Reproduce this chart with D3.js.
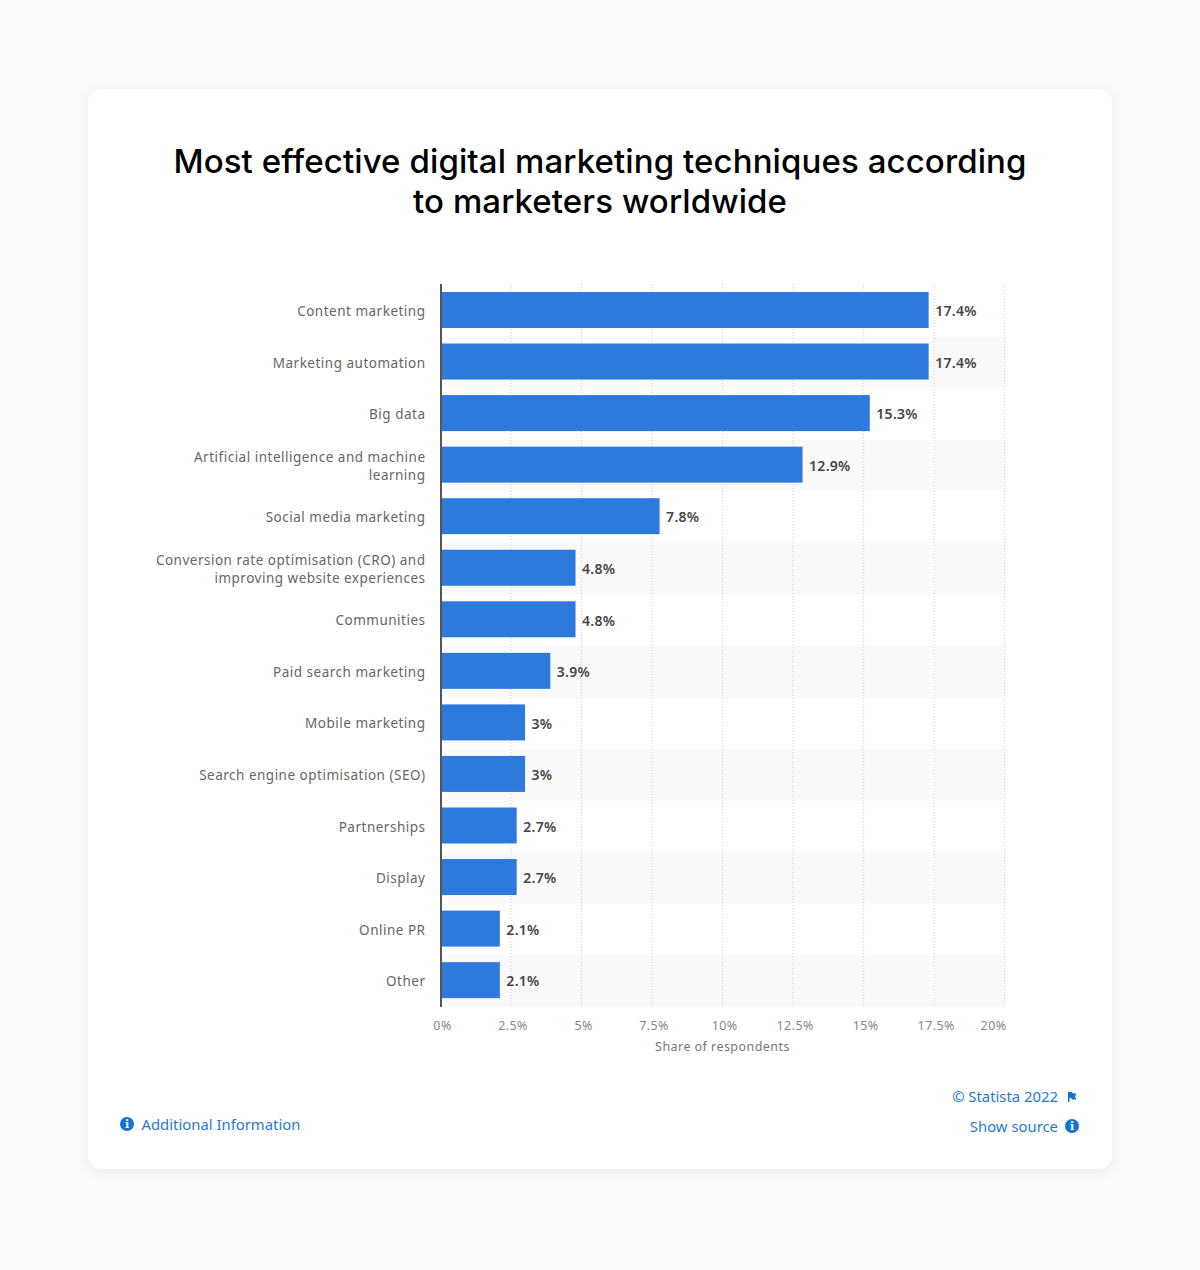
<!DOCTYPE html>
<html>
<head>
<meta charset="utf-8">
<script src="https://cdn.jsdelivr.net/npm/d3@7"></script>
<style>
	html, body { margin: 0; padding: 0; background: #fbfbfb; }
	#card { position: absolute; left: 88px; top: 89px; width: 1024px; height: 1080px; background: #fff;
		border-radius: 13px; box-shadow: 0 2px 14px rgba(0,0,0,0.07); }
	svg { position: absolute; left: 0; top: 0; }
	text { font-family: "Noto Sans", sans-serif; }
</style>
</head>
<body>
<div id="card"></div>
<div id="chart-area"></div>
<script>
const categories = ["Content marketing", "Marketing automation", "Big data",
	"Artificial intelligence and machine learning", "Social media marketing",
	"Conversion rate optimisation (CRO) and improving website experiences", "Communities",
	"Paid search marketing", "Mobile marketing", "Search engine optimisation (SEO)",
	"Partnerships", "Display", "Online PR", "Other"];
const values = [17.4, 17.4, 15.3, 12.9, 7.8, 4.8, 4.8, 3.9, 3, 3, 2.7, 2.7, 2.1, 2.1];
const xTicks = [0, 2.5, 5, 7.5, 10, 12.5, 15, 17.5, 20];
const titleLines = ["Most effective digital marketing techniques according", "to marketers worldwide"];

const svg = d3.select("#chart-area").append("svg")
	.attr("width", 1200)
	.attr("height", 1270);

// gridlines and bars sit on slightly different ranges in the reference
const x = d3.scaleLinear().domain([0, 20]).range([440.5, 1004.7]);
const xBar = d3.scaleLinear().domain([0, 20]).range([441, 1001.5]);
const y = d3.scaleBand().domain(categories).range([285, 1006.7]);
const barHeight = 36;

// title
svg.selectAll(".title")
	.data(titleLines)
	.enter().append("text")
	.attr("class", "title")
	.attr("x", 600)
	.attr("y", (d, i) => 173 + i * 40)
	.attr("text-anchor", "middle")
	.style("font-family", "Inter")
	.style("font-weight", 500)
	.style("font-size", "33px")
	.style("letter-spacing", "0.1px")
	.style("fill", "#000")
	.text(d => d);

// alternating rows
svg.selectAll(".row")
	.data(categories.filter((d, i) => i % 2 == 1))
	.enter().append("rect")
	.attr("class", "row")
	.attr("x", 441)
	.attr("y", d => y(d))
	.attr("width", 564)
	.attr("height", y.bandwidth())
	.attr("fill", "#fafafa");

// gridlines
svg.selectAll(".grid")
	.data(xTicks.slice(1))
	.enter().append("line")
	.attr("class", "grid")
	.attr("x1", d => x(d))
	.attr("x2", d => x(d))
	.attr("y1", 284)
	.attr("y2", 1006)
	.style("stroke", "#cfcfcf")
	.style("stroke-width", 1)
	.style("stroke-dasharray", "1,2");

// bars
svg.selectAll(".bar")
	.data(categories)
	.enter().append("rect")
	.attr("class", "bar")
	.attr("x", 441)
	.attr("y", d => y(d) + 7)
	.attr("width", (d, i) => xBar(values[i]) - 441)
	.attr("height", barHeight)
	.attr("fill", "#2e79dc");

// value labels
svg.selectAll(".value")
	.data(categories)
	.enter().append("text")
	.attr("class", "value")
	.attr("x", (d, i) => xBar(values[i]) + 6.5)
	.attr("y", d => y(d) + y.bandwidth() / 2 + 5.5)
	.style("font-size", "14px")
	.style("font-weight", 600)
	.style("letter-spacing", "0.3px")
	.style("fill", "#454545")
	.text((d, i) => values[i] + "%");

// category labels, wrapped by measured width
svg.selectAll(".cat")
	.data(categories)
	.enter().append("text")
	.attr("class", "cat")
	.attr("text-anchor", "end")
	.style("font-size", "13.5px")
	.style("letter-spacing", "0.5px")
	.style("fill", "#666")
	.each(function (d) {
		const el = d3.select(this);
		const words = d.split(" ");
		let lines = [], cur = [];
		const probe = el.append("tspan");
		words.forEach(w => {
			probe.text(cur.concat(w).join(" "));
			if (probe.node().getComputedTextLength() > 275 && cur.length) {
				lines.push(cur.join(" "));
				cur = [w];
			} else {
				cur.push(w);
			}
		});
		lines.push(cur.join(" "));
		probe.remove();
		const cy = y(d) + y.bandwidth() / 2;
		lines.forEach((l, i) => {
			el.append("tspan")
				.attr("x", 425.5)
				.attr("y", cy + 5.3 + (i - (lines.length - 1) / 2) * 18)
				.text(l);
		});
	});

// x axis labels
const xAxis = d3.axisBottom(x)
	.tickValues(xTicks)
	.tickSize(0)
	.tickPadding(0)
	.tickFormat(d => d + "%");

const axisG = svg.append("g")
	.attr("class", "axis x-axis")
	.attr("transform", "translate(1.5,1021)")
	.call(xAxis);
axisG.select(".domain").remove();
axisG.selectAll("text")
	.style("font-family", '"Noto Sans"')
	.style("font-size", "12.5px")
	.style("letter-spacing", "0.4px")
	.style("fill", "#888");
axisG.selectAll(".tick").filter(d => d == 20).select("text")
	.attr("text-anchor", "end")
	.attr("x", -0.2);

// y axis line
svg.append("line")
	.attr("x1", 441).attr("x2", 441)
	.attr("y1", 284).attr("y2", 1007)
	.style("stroke", "#555")
	.style("stroke-width", 2);

svg.append("text")
	.attr("x", 722.5)
	.attr("y", 1051)
	.attr("text-anchor", "middle")
	.style("font-size", "12.5px")
	.style("letter-spacing", "0.45px")
	.style("fill", "#777")
	.text("Share of respondents");

// footer links
const linkColor = "#1f7ad2";
function infoIcon(cx, cy) {
	svg.append("circle").attr("cx", cx).attr("cy", cy).attr("r", 7).attr("fill", "#1273d0");
	svg.append("text").attr("x", cx).attr("y", cy + 4)
		.attr("text-anchor", "middle")
		.style("font-family", '"DejaVu Serif"')
		.style("font-size", "11px")
		.style("font-weight", 700)
		.style("fill", "#fff")
		.text("i");
}
function link(xpos, ypos, anchor, label) {
	svg.append("text")
		.attr("x", xpos).attr("y", ypos)
		.attr("text-anchor", anchor)
		.style("font-size", "14.85px")
		.style("fill", linkColor)
		.text(label);
}
infoIcon(127, 1124);
link(141.5, 1130, "start", "Additional Information");
link(1058, 1102, "end", "© Statista 2022");
link(1058, 1132, "end", "Show source");
infoIcon(1072, 1126);

svg.append("path")
	.attr("d", "M1068 1092h4l1 1.5h3.5l-1.5 3 1.5 3h-4.5l-1-1.5h-1.5v4h-1.5z")
	.attr("fill", "#1273d0");
</script>
</body>
</html>
